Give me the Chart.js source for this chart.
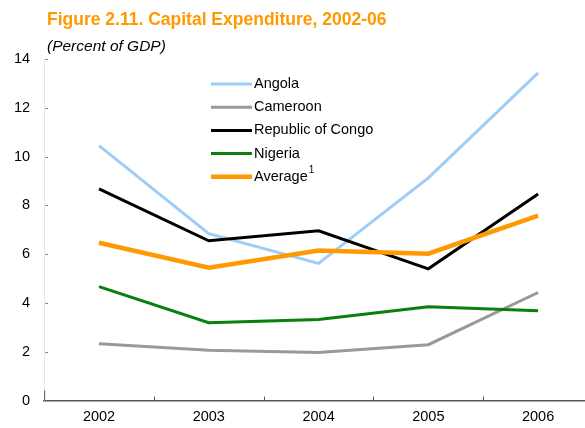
<!DOCTYPE html>
<html>
<head>
<meta charset="utf-8">
<script src="https://cdn.jsdelivr.net/npm/chart.js@4/dist/chart.umd.min.js"></script>
<style>
  html, body { margin: 0; padding: 0; background: #fff; overflow: hidden; }
  .wrap { position: relative; width: 585px; height: 428px; overflow: hidden; }
  .box { position: absolute; left: 0; top: 0; width: 593px; height: 434px; }
  .title { position: absolute; left: 47px; top: 9px; font: bold 17.5px "Liberation Sans", Arial, sans-serif; color: #FF9900; }
  .sub { position: absolute; left: 47px; top: 37px; font: italic 15.5px "Liberation Sans", Arial, sans-serif; color: #000; }
</style>
</head>
<body>
<div class="wrap">
  <div class="box"><canvas id="capex"></canvas></div>
  <div class="title">Figure 2.11. Capital Expenditure, 2002-06</div>
  <div class="sub">(Percent of GDP)</div>
</div>
<script>
const years = ['2002', '2003', '2004', '2005', '2006']
const angola = [10.45, 6.84, 5.62, 9.13, 13.43]
const cameroon = [2.33, 2.06, 1.97, 2.29, 4.43]
const congo = [8.68, 6.55, 6.96, 5.40, 8.47]
const nigeria = [4.67, 3.19, 3.32, 3.85, 3.68]
const average = [6.47, 5.45, 6.15, 6.02, 7.58]
const yTicks = [0, 2, 4, 6, 8, 10, 12, 14]

const font = '"Liberation Sans", Arial, sans-serif'

// inner tick marks + legend drawn inside plot
const extras = {
  id: 'extras',
  afterDraw(chart) {
    const ctx = chart.ctx
    const area = chart.chartArea
    const x = chart.scales.x
    const y = chart.scales.y
    ctx.save()
    ctx.strokeStyle = '#555'
    ctx.lineWidth = 1
    for (let i = 0; i < years.length - 1; i++) {
      const px = Math.round((x.getPixelForValue(i) + x.getPixelForValue(i + 1)) / 2) + 0.5
      ctx.beginPath(); ctx.moveTo(px, area.bottom); ctx.lineTo(px, area.bottom - 4); ctx.stroke()
    }
    ctx.beginPath(); ctx.moveTo(area.left + 0.5, area.bottom); ctx.lineTo(area.left + 0.5, area.bottom - 10); ctx.stroke()
    ctx.strokeStyle = '#888'
    yTicks.slice(1).forEach(v => {
      const py = Math.round(y.getPixelForValue(v)) + 0.5
      ctx.beginPath(); ctx.moveTo(area.left + 1, py); ctx.lineTo(area.left + 4, py); ctx.stroke()
    })

    // legend
    ctx.font = '14.5px ' + font
    ctx.textBaseline = 'middle'
    ctx.fillStyle = '#000'
    chart.data.datasets.forEach((ds, i) => {
      const ly = 84 + i * 23.2
      ctx.strokeStyle = ds.borderColor
      ctx.lineWidth = ds.borderWidth
      ctx.beginPath(); ctx.moveTo(211, ly); ctx.lineTo(252, ly); ctx.stroke()
      ctx.fillText(ds.label, 254, ly)
      if (ds.note) {
        const w = ctx.measureText(ds.label).width
        ctx.font = '10px ' + font
        ctx.fillText(ds.note, 255 + w, ly - 7)
        ctx.font = '14.5px ' + font
      }
    })
    ctx.restore()
  }
}

const line = (label, data, color, width) => ({
  label, data, borderColor: color, backgroundColor: color, borderWidth: width,
  pointRadius: 0, tension: 0, fill: false
})

const datasets = [
  line('Angola', angola, '#9FCDF7', 3),
  line('Cameroon', cameroon, '#999999', 3),
  line('Republic of Congo', congo, '#000000', 3),
  line('Nigeria', nigeria, '#0A7F0A', 3),
  Object.assign(line('Average', average, '#FF9900', 4.5), { note: '1' })
]
// draw average on top
datasets.forEach((d, i) => { d.order = i === 4 ? 0 : 5 - i })

new Chart(document.getElementById('capex'), {
  type: 'line',
  data: { labels: years, datasets },
  options: {
    responsive: true,
    maintainAspectRatio: false,
    animation: false,
    layout: { padding: { top: 59, right: 0, left: 0, bottom: 0 } },
    plugins: { legend: { display: false }, tooltip: { enabled: false } },
    scales: {
      x: {
        offset: true,
        grid: { display: false, drawTicks: false },
        border: { color: '#555', width: 1.5 },
        ticks: { color: '#000', font: { family: font, size: 14.5 }, padding: 8, maxRotation: 0 }
      },
      y: {
        min: 0, max: 14,
        afterBuildTicks: s => { s.ticks = yTicks.map(v => ({ value: v })) },
        grid: { display: false, drawTicks: false },
        border: { color: '#e6e6e6', width: 1 },
        ticks: { color: '#000', font: { family: font, size: 14.5 }, padding: 14 }
      }
    }
  },
  plugins: [extras]
})
</script>
</body>
</html>
